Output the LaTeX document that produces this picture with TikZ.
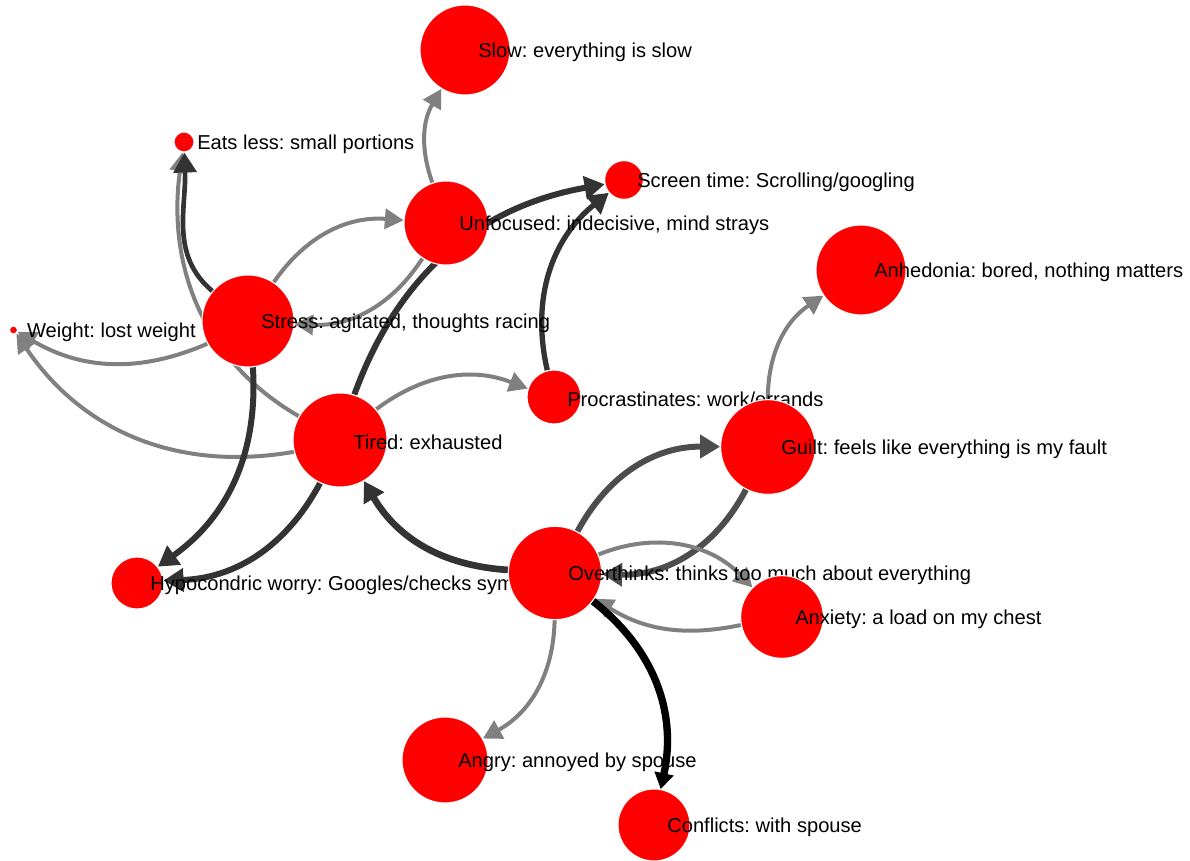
\documentclass[tikz,border=0pt]{standalone}
\usepackage{fontspec}
\setmainfont{Liberation Sans}
\usepackage{xcolor}
\usetikzlibrary{arrows.meta,backgrounds}
\definecolor{symred}{HTML}{FF0000}
\definecolor{edgegray}{HTML}{808080}
\definecolor{edgedark}{HTML}{333333}
\definecolor{edgemid}{HTML}{4D4D4D}
\tikzset{
  sym/.style={circle, fill=symred, draw=white, line width=0.8pt, inner sep=0pt},
  lbl/.style={anchor=west, inner sep=0pt, yshift=-1.5pt, font=\fontsize{15.1}{17}\selectfont},
  gedge/.style={draw=edgegray, line width=3pt, -{Triangle[length=14pt,width=15pt]}},
  dedge/.style={draw=edgedark, line width=4.5pt, -{Triangle[length=15pt,width=17pt]}},
  medge/.style={draw=edgemid, line width=4.5pt, -{Triangle[length=15pt,width=17pt]}},
  kedge/.style={draw=black, line width=5.5pt, -{Triangle[length=12pt,width=14pt]}}
}
\frenchspacing
\begin{document}
\begin{tikzpicture}[x=0.75pt,y=0.75pt]
        \useasboundingbox (0,0) rectangle (1190,861);

        % draw nodes
        \node[sym, minimum size=67.5pt] (slow) at (465,811) {};
        \node[lbl] (slowl) at ([xshift=9.75pt]slow.center) {Slow: everything is slow};
        \node[sym, minimum size=15pt] (eats) at (184,719) {};
        \node[lbl] (eatsl) at ([xshift=9.75pt]eats.center) {Eats less: small portions};
        \node[sym, minimum size=29pt] (screen) at (624,681) {};
        \node[lbl] (screenl) at ([xshift=9.75pt]screen.center) {Screen time: Scrolling/googling};
        \node[sym, minimum size=63pt] (unfoc) at (446,638) {};
        \node[lbl] (unfocl) at ([xshift=9.75pt]unfoc.center) {Unfocused: indecisive, mind strays};
        \node[sym, minimum size=67.5pt] (anhed) at (861,591) {};
        \node[lbl] (anhedl) at ([xshift=9.75pt]anhed.center) {Anhedonia: bored, nothing matters};
        \node[sym, minimum size=6pt] (weight) at (13.5,531) {};
        \node[lbl] (weightl) at ([xshift=10pt]weight.center) {Weight: lost weight};
        \node[sym, minimum size=69pt] (stress) at (248,540) {};
        \node[lbl] (stressl) at ([xshift=9.75pt]stress.center) {Stress: agitated, thoughts racing};
        \node[sym, minimum size=40.5pt] (procr) at (554,464) {};
        \node[lbl] (procrl) at ([xshift=9.75pt]procr.center) {Procrastinates: work/errands};
        \node[sym, minimum size=70.5pt] (tired) at (340,421) {};
        \node[lbl] (tiredl) at ([xshift=9.75pt]tired.center) {Tired: exhausted};
        \node[sym, minimum size=71pt] (guilt) at (768,414) {};
        \node[lbl] (guiltl) at ([xshift=9.75pt]guilt.center) {Guilt: feels like everything is my fault};
        \node[sym, minimum size=39pt] (hypo) at (137,278) {};
        \node[lbl] (hypol) at ([xshift=9.75pt]hypo.center) {Hypocondric worry: Googles/checks symptoms};
        \node[sym, minimum size=70pt] (over) at (555,288) {};
        \node[lbl] (overl) at ([xshift=9.75pt]over.center) {Overthinks: thinks too much about everything};
        \node[sym, minimum size=62pt] (anx) at (782,244) {};
        \node[lbl] (anxl) at ([xshift=9.75pt]anx.center) {Anxiety: a load on my chest};
        \node[sym, minimum size=64.5pt] (angry) at (445,101) {};
        \node[lbl] (angryl) at ([xshift=9.75pt]angry.center) {Angry: annoyed by spouse};
        \node[sym, minimum size=54pt] (confl) at (654,36) {};
        \node[lbl] (confll) at ([xshift=9.75pt]confl.center) {Conflicts: with spouse};

        % draw edges
        \begin{scope}[on background layer]
          \draw[gedge] (unfoc) to[bend left=25] (slow);
          \draw[gedge] (tired) to[out=150,in=-98] (eats);
          \draw[dedge, line width=3.5pt] (stress) to[out=140,in=-88] (eats);
          \draw[gedge] (stress) to[bend left=30] (unfoc);
          \draw[gedge] (unfoc) to[bend left=30] (stress);
          \draw[gedge] (stress) to[bend left=27] (weight);
          \draw[gedge] (tired) to[bend left=33] (weight);
          \draw[dedge] (stress) to[bend left=29] (hypo);
          \draw[dedge] (tired) to[bend left=30] (hypo);
          \draw[dedge] (tired) to[bend left=30] (screen);
          \draw[gedge] (tired) to[bend left=29] (procr);
          \draw[dedge, line width=4pt] (procr) to[bend left=32] (screen);
          \draw[dedge, line width=5pt] (over) to[bend left=28] (tired);
          \draw[medge] (over) to[bend left=31] (guilt);
          \draw[medge] (guilt) to[bend left=32] (over);
          \draw[gedge] (guilt) to[bend left=28] (anhed);
          \draw[gedge] (over) to[bend left=34] (anx);
          \draw[gedge] (anx) to[bend left=22] (over);
          \draw[gedge] (over) to[bend left=30] (angry);
          \draw[kedge] (over) to[bend left=32] (confl);
        \end{scope}
\end{tikzpicture}
\end{document}
